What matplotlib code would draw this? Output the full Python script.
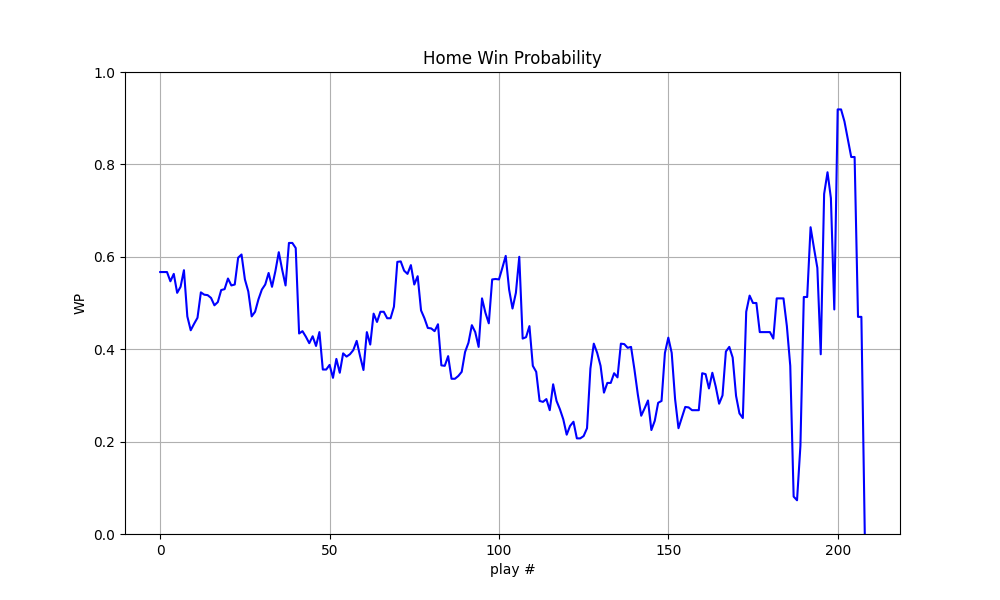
import numpy as np
import matplotlib
matplotlib.use('Agg')
import matplotlib.pyplot as plt

# home win probability after each play
wp = [0.567, 0.567, 0.567, 0.547, 0.563, 0.522, 0.535, 0.571, 0.471, 0.441,
      0.455, 0.468, 0.523, 0.518, 0.517, 0.511, 0.495, 0.502, 0.528, 0.530,
      0.553, 0.538, 0.540, 0.598, 0.605, 0.551, 0.525, 0.471, 0.481, 0.508,
      0.529, 0.540, 0.565, 0.535, 0.569, 0.610, 0.572, 0.538, 0.630, 0.630,
      0.619, 0.434, 0.439, 0.427, 0.413, 0.428, 0.407, 0.437, 0.356, 0.356,
      0.366, 0.338, 0.379, 0.349, 0.391, 0.384, 0.389, 0.398, 0.418, 0.385,
      0.355, 0.437, 0.410, 0.477, 0.459, 0.481, 0.481, 0.467, 0.467, 0.492,
      0.589, 0.590, 0.570, 0.563, 0.582, 0.540, 0.558, 0.484, 0.467, 0.446,
      0.445, 0.439, 0.454, 0.365, 0.364, 0.385, 0.336, 0.336, 0.342, 0.351,
      0.394, 0.414, 0.452, 0.437, 0.405, 0.510, 0.479, 0.456, 0.551, 0.552,
      0.551, 0.576, 0.602, 0.529, 0.488, 0.522, 0.600, 0.423, 0.426, 0.450,
      0.364, 0.351, 0.288, 0.286, 0.292, 0.268, 0.324, 0.288, 0.270, 0.248,
      0.215, 0.234, 0.243, 0.207, 0.207, 0.212, 0.229, 0.358, 0.412, 0.392,
      0.364, 0.306, 0.327, 0.327, 0.348, 0.339, 0.412, 0.411, 0.403, 0.405,
      0.356, 0.302, 0.256, 0.272, 0.289, 0.225, 0.245, 0.284, 0.288, 0.392,
      0.425, 0.392, 0.292, 0.229, 0.252, 0.275, 0.274, 0.268, 0.268, 0.268,
      0.348, 0.346, 0.315, 0.349, 0.319, 0.282, 0.300, 0.395, 0.405, 0.382,
      0.299, 0.261, 0.251, 0.481, 0.516, 0.500, 0.500, 0.437, 0.437, 0.437,
      0.437, 0.423, 0.510, 0.510, 0.510, 0.450, 0.364, 0.081, 0.073, 0.191,
      0.513, 0.513, 0.664, 0.619, 0.576, 0.389, 0.736, 0.783, 0.727, 0.486,
      0.919, 0.919, 0.893, 0.855, 0.816, 0.816, 0.470, 0.470, 0.0]
plays = np.arange(len(wp))

fig, ax = plt.subplots(figsize=(10, 6), dpi=100)
ax.plot(plays, wp, color='blue')
ax.set_ylim(0, 1)
ax.set_title('Home Win Probability')
ax.set_xlabel('play #')
ax.set_ylabel('WP')
ax.grid(True)
fig.savefig('out.png')
